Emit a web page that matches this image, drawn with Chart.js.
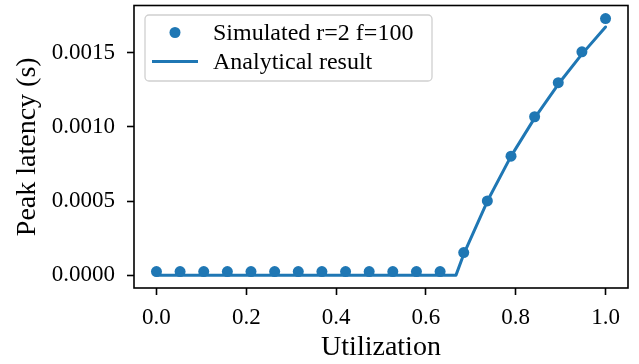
<!DOCTYPE html>
<html><head><meta charset="utf-8">
<script src="https://cdn.jsdelivr.net/npm/chart.js@4.4.1/dist/chart.umd.min.js"></script>
<style>html,body{margin:0;padding:0;background:#fff}#wrap{width:639px;height:364px;position:relative}</style>
</head><body><div id="wrap"><canvas id="c" width="639" height="364"></canvas></div>
<script>
// ---- data ----
const utilization = [0.0, 0.0526, 0.1053, 0.1579, 0.2105, 0.2632, 0.3158, 0.3684, 0.4211, 0.4737,
                     0.5263, 0.5789, 0.6316, 0.6842, 0.7368, 0.7895, 0.8421, 0.8947, 0.9474, 1.0];
const simulatedLatency = [0.000024, 0.000024, 0.000024, 0.000024, 0.000024, 0.000024, 0.000024,
                          0.000024, 0.000024, 0.000024, 0.000024, 0.000024, 0.000024,
                          0.000152, 0.000501, 0.000803, 0.001069, 0.001299, 0.001507, 0.001732];
const analyticalUtil = [0.0, 0.667, 0.684, 0.737, 0.789, 0.842, 0.895, 0.947, 1.0];
const analyticalLatency = [0.0, 0.0, 0.00014, 0.0005, 0.0008, 0.00106, 0.00129, 0.00149, 0.001675];
const seriesLabels = ['Simulated r=2 f=100', 'Analytical result'];
const xTickValues = [0, 0.2, 0.4, 0.6, 0.8, 1.0];
const xTickLabels = ['0.0', '0.2', '0.4', '0.6', '0.8', '1.0'];
const yTickValues = [0, 0.0005, 0.001, 0.0015];
const yTickLabels = ['0.0000', '0.0005', '0.0010', '0.0015'];
const xTitle = 'Utilization';
const yTitle = 'Peak latency (s)';

const BLUE = '#1f77b4';
const FONT = '"Liberation Serif", "DejaVu Serif", serif';
Chart.defaults.font.family = FONT;
Chart.defaults.color = '#000';

const framePlugin = {
  id: 'frame',
  afterDraw(chart) {
    const {ctx, chartArea: a} = chart;
    ctx.save();
    ctx.strokeStyle = '#000';
    ctx.lineWidth = 1.6;
    ctx.strokeRect(a.left, a.top, a.right - a.left, a.bottom - a.top);
    // legend
    const lx = 145, ly = 15, lw = 287, lh = 66, r = 4;
    ctx.beginPath();
    ctx.roundRect(lx, ly, lw, lh, r);
    ctx.fillStyle = 'rgba(255,255,255,0.8)';
    ctx.fill();
    ctx.strokeStyle = '#d0d0d0';
    ctx.lineWidth = 1.3;
    ctx.stroke();
    const ds = chart.data.datasets;
    const row1 = 32.5, row2 = 61.5;
    ctx.fillStyle = BLUE;
    ctx.beginPath();
    ctx.arc(175, row1, 5.5, 0, Math.PI * 2);
    ctx.fill();
    ctx.strokeStyle = BLUE;
    ctx.lineWidth = 3;
    ctx.beginPath();
    ctx.moveTo(152, row2);
    ctx.lineTo(198, row2);
    ctx.stroke();
    ctx.fillStyle = '#000';
    ctx.font = '24px ' + FONT;
    ctx.textBaseline = 'middle';
    ctx.textAlign = 'left';
    ctx.fillText(ds[0].label, 213, row1 + 1);
    ctx.fillText(ds[1].label, 213, row2 + 1);
    ctx.restore();
  }
};

new Chart(document.getElementById('c'), {
  type: 'scatter',
  data: {
    datasets: [
      {
        type: 'scatter',
        label: seriesLabels[0],
        data: utilization.map((x, i) => ({x, y: simulatedLatency[i]})),
        pointRadius: 5.5,
        pointHoverRadius: 5.5,
        pointBackgroundColor: BLUE,
        pointBorderWidth: 0,
        backgroundColor: BLUE,
        borderColor: BLUE,
        order: 2
      },
      {
        type: 'line',
        label: seriesLabels[1],
        data: analyticalUtil.map((x, i) => ({x, y: analyticalLatency[i]})),
        borderColor: BLUE,
        backgroundColor: BLUE,
        borderWidth: 3,
        pointRadius: 0,
        tension: 0,
        fill: false,
        borderJoinStyle: 'round',
        borderCapStyle: 'round',
        order: 1
      }
    ]
  },
  options: {
    responsive: false,
    devicePixelRatio: 1,
    animation: false,
    events: [],
    layout: {padding: {top: 4, right: 11, left: 0, bottom: 0}},
    plugins: {legend: {display: false}, tooltip: {enabled: false}},
    scales: {
      x: {
        type: 'linear',
        min: -0.05, max: 1.05,
        afterBuildTicks: s => { s.ticks = xTickValues.map(v => ({value: v})); },
        afterFit: s => { s.height = 76; s.paddingLeft = 0; s.paddingRight = 0; },
        ticks: {
          autoSkip: false, maxRotation: 0,
          font: {size: 23},
          padding: 9,
          callback: (v) => { const i = xTickValues.indexOf(v); return i >= 0 ? xTickLabels[i] : ''; }
        },
        grid: {drawOnChartArea: false, drawTicks: true, tickLength: 7, tickWidth: 1.6, tickColor: '#000'},
        border: {display: false},
        title: {display: true, text: xTitle, font: {size: 28}, padding: {top: 0, bottom: 0}}
      },
      y: {
        type: 'linear',
        min: -0.0000868, max: 0.00182,
        afterBuildTicks: s => { s.ticks = yTickValues.map(v => ({value: v})); },
        afterFit: s => { s.width = 134; s.paddingTop = 0; s.paddingBottom = 0; },
        ticks: {
          autoSkip: false,
          font: {size: 23},
          padding: 12,
          callback: (v) => { const i = yTickValues.indexOf(v); return i >= 0 ? yTickLabels[i] : ''; }
        },
        grid: {drawOnChartArea: false, drawTicks: true, tickLength: 7, tickWidth: 1.6, tickColor: '#000'},
        border: {display: false},
        title: {display: true, text: yTitle, font: {size: 28}, padding: {top: 11, bottom: 0}}
      }
    }
  },
  plugins: [framePlugin]
});
</script>
</body></html>
